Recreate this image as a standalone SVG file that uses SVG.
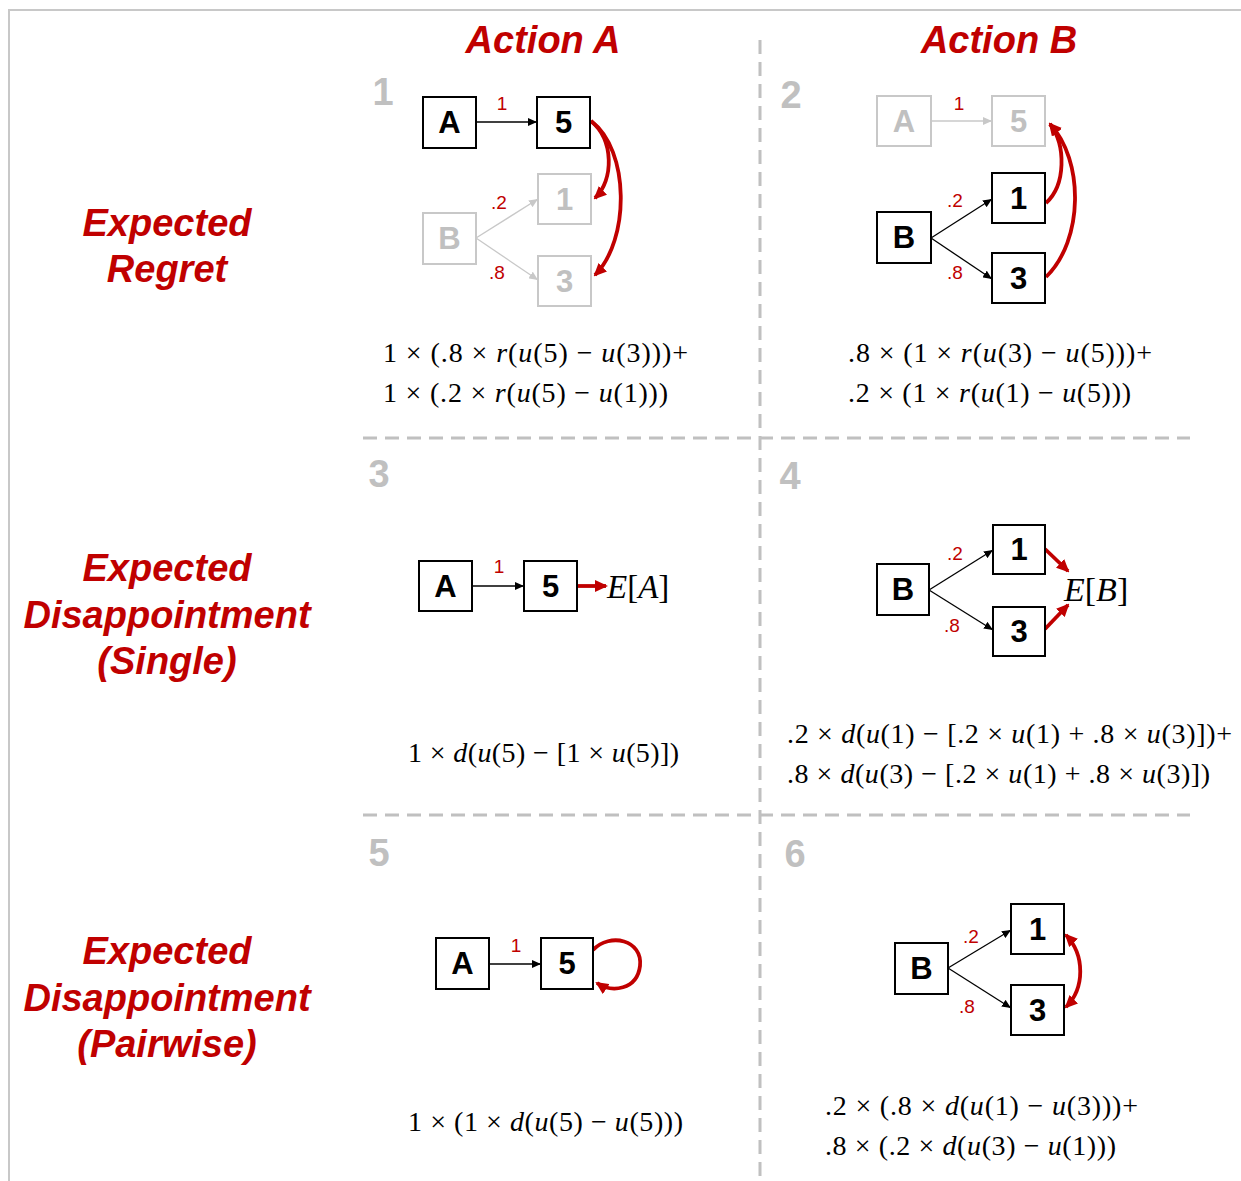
<svg xmlns="http://www.w3.org/2000/svg" width="1241" height="1181" viewBox="0 0 1241 1181">
<style>
.hdr{font-family:"Liberation Sans",Arial,sans-serif;font-weight:bold;font-style:italic;font-size:38px;fill:#c00000;text-anchor:middle}
.num{font-family:"Liberation Sans",Arial,sans-serif;font-weight:bold;font-size:38px;fill:#c0c0c0;text-anchor:middle}
.box{fill:#fff;stroke:#000;stroke-width:2}
.gbox{fill:#fff;stroke:#c8c8c8;stroke-width:2}
.bt{font-family:"Liberation Sans",Arial,sans-serif;font-weight:bold;font-size:31px;fill:#000;text-anchor:middle}
.gbt{font-family:"Liberation Sans",Arial,sans-serif;font-weight:bold;font-size:31px;fill:#c0c0c0;text-anchor:middle}
.pl{font-family:"Liberation Sans",Arial,sans-serif;font-size:19px;fill:#c00000;text-anchor:middle}
.ed{fill:none;stroke:#000;stroke-width:1.3;marker-end:url(#ah)}
.ged{fill:none;stroke:#c8c8c8;stroke-width:1.3;marker-end:url(#gah)}
.red{fill:none;stroke:#c00000;stroke-width:3.8;marker-end:url(#rah)}
.dash{stroke:#c0c0c0;stroke-width:3;stroke-dasharray:14 8;fill:none}
.f{font-family:"Liberation Serif","Times New Roman",serif;font-size:28px;fill:#000}
.i{font-style:italic}
</style>
<defs>
<marker id="ah" markerUnits="userSpaceOnUse" markerWidth="9" markerHeight="8" refX="9" refY="4" orient="auto"><path d="M0,0 L9,4 L0,8 z" fill="#000"/></marker>
<marker id="gah" markerUnits="userSpaceOnUse" markerWidth="9" markerHeight="8" refX="9" refY="4" orient="auto"><path d="M0,0 L9,4 L0,8 z" fill="#c8c8c8"/></marker>
<marker id="rah" markerUnits="userSpaceOnUse" markerWidth="13" markerHeight="12" refX="11" refY="6" orient="auto-start-reverse"><path d="M0,0 L13,6 L0,12 z" fill="#c00000"/></marker>
</defs>
<rect width="1241" height="1181" fill="#fff"/>
<path d="M9,1181 V10 H1241" fill="none" stroke="#c8c8c8" stroke-width="2"/>
<g id="grid">
<line class="dash" x1="760" y1="40" x2="760" y2="1181"/>
<line class="dash" x1="363" y1="438" x2="1190" y2="438"/>
<line class="dash" x1="363" y1="815" x2="1190" y2="815"/>
</g>
<g id="headers">
<text class="hdr" x="543" y="53">Action A</text>
<text class="hdr" x="999" y="53">Action B</text>
<text class="hdr" x="167" y="236">Expected</text>
<text class="hdr" x="167" y="282">Regret</text>
<text class="hdr" x="167" y="581">Expected</text>
<text class="hdr" x="167" y="628">Disappointment</text>
<text class="hdr" x="167" y="674">(Single)</text>
<text class="hdr" x="167" y="964">Expected</text>
<text class="hdr" x="167" y="1011">Disappointment</text>
<text class="hdr" x="167" y="1057">(Pairwise)</text>
</g>
<g id="panel-numbers">
<text class="num" x="383" y="105">1</text>
<text class="num" x="791" y="108">2</text>
<text class="num" x="379" y="487">3</text>
<text class="num" x="790" y="489">4</text>
<text class="num" x="379" y="866">5</text>
<text class="num" x="795" y="867">6</text>
</g>
<g id="connectors">
<line class="ed" x1="476" y1="122" x2="537" y2="122"/>
<line class="ged" x1="476" y1="238" x2="538" y2="199"/>
<line class="ged" x1="476" y1="238" x2="538" y2="280"/>
<path class="red" d="M591,121 C614,140 614,180 595,198"/>
<path class="red" d="M591,121 C630,150 630,240 595,275"/>
<line class="ged" x1="931" y1="121" x2="992" y2="121"/>
<line class="ed" x1="931" y1="238" x2="992" y2="199"/>
<line class="ed" x1="931" y1="238" x2="992" y2="279"/>
<path class="red" d="M1046,203 C1066,185 1066,145 1050,124"/>
<path class="red" d="M1046,277 C1084,240 1084,160 1050,124"/>
<line class="ed" x1="472" y1="586" x2="524" y2="586"/>
<line class="red" x1="577" y1="586" x2="606" y2="586"/>
<line class="ed" x1="929" y1="590" x2="993" y2="550"/>
<line class="ed" x1="929" y1="590" x2="993" y2="630"/>
<line class="red" x1="1045" y1="549" x2="1068" y2="571"/>
<line class="red" x1="1045" y1="629" x2="1068" y2="605"/>
<line class="ed" x1="489" y1="964" x2="541" y2="964"/>
<path class="red" d="M593,950 C610,932 643,940 640,966 C637,990 612,993 597,983"/>
<line class="ed" x1="948" y1="968" x2="1011" y2="930"/>
<line class="ed" x1="948" y1="968" x2="1011" y2="1008"/>
<path class="red" style="marker-start:url(#rah)" d="M1066,935 C1085,955 1085,988 1066,1007"/>
</g>
<g id="edge-labels">
<text class="pl" x="502" y="110">1</text>
<text class="pl" x="499" y="209">.2</text>
<text class="pl" x="497" y="279">.8</text>
<text class="pl" x="959" y="110">1</text>
<text class="pl" x="955" y="207">.2</text>
<text class="pl" x="955" y="279">.8</text>
<text class="pl" x="499" y="573">1</text>
<text class="pl" x="955" y="560">.2</text>
<text class="pl" x="952" y="632">.8</text>
<text class="pl" x="516" y="952">1</text>
<text class="pl" x="971" y="943">.2</text>
<text class="pl" x="967" y="1013">.8</text>
</g>
<g id="p1-A"><rect class="box" x="423" y="97" width="53" height="51"/><text class="bt" x="449.5" y="133">A</text></g>
<g id="p1-5"><rect class="box" x="537" y="97" width="53" height="51"/><text class="bt" x="563.5" y="133">5</text></g>
<g id="p1-B"><rect class="gbox" x="423" y="213" width="53" height="51"/><text class="gbt" x="449.5" y="249">B</text></g>
<g id="p1-1"><rect class="gbox" x="538" y="174" width="53" height="50"/><text class="gbt" x="564.5" y="210">1</text></g>
<g id="p1-3"><rect class="gbox" x="538" y="256" width="53" height="50"/><text class="gbt" x="564.5" y="292">3</text></g>
<g id="p2-A"><rect class="gbox" x="877" y="96" width="54" height="50"/><text class="gbt" x="904" y="132">A</text></g>
<g id="p2-5"><rect class="gbox" x="992" y="96" width="53" height="50"/><text class="gbt" x="1018.5" y="132">5</text></g>
<g id="p2-B"><rect class="box" x="877" y="212" width="54" height="51"/><text class="bt" x="904" y="248">B</text></g>
<g id="p2-1"><rect class="box" x="992" y="173" width="53" height="50"/><text class="bt" x="1018.5" y="209">1</text></g>
<g id="p2-3"><rect class="box" x="992" y="253" width="53" height="50"/><text class="bt" x="1018.5" y="289">3</text></g>
<g id="p3-A"><rect class="box" x="419" y="561" width="53" height="50"/><text class="bt" x="445.5" y="597">A</text></g>
<g id="p3-5"><rect class="box" x="524" y="561" width="53" height="50"/><text class="bt" x="550.5" y="597">5</text></g>
<g id="p3-EA"><text class="f" style="font-size:33px" x="607" y="598"><tspan class="i">E</tspan>[<tspan class="i">A</tspan>]</text></g>
<g id="p4-B"><rect class="box" x="877" y="564" width="52" height="51"/><text class="bt" x="903" y="600">B</text></g>
<g id="p4-1"><rect class="box" x="993" y="525" width="52" height="49"/><text class="bt" x="1019" y="560">1</text></g>
<g id="p4-3"><rect class="box" x="993" y="607" width="52" height="49"/><text class="bt" x="1019" y="642">3</text></g>
<g id="p4-EB"><text class="f" style="font-size:34px" x="1064" y="601"><tspan class="i">E</tspan>[<tspan class="i">B</tspan>]</text></g>
<g id="p5-A"><rect class="box" x="436" y="938" width="53" height="51"/><text class="bt" x="462.5" y="974">A</text></g>
<g id="p5-5"><rect class="box" x="541" y="938" width="52" height="51"/><text class="bt" x="567" y="974">5</text></g>
<g id="p6-B"><rect class="box" x="895" y="943" width="53" height="51"/><text class="bt" x="921.5" y="979">B</text></g>
<g id="p6-1"><rect class="box" x="1011" y="904" width="53" height="50"/><text class="bt" x="1037.5" y="940">1</text></g>
<g id="p6-3"><rect class="box" x="1011" y="985" width="53" height="50"/><text class="bt" x="1037.5" y="1021">3</text></g>
<g id="formulas">
<text class="f" x="383" y="362" textLength="305" lengthAdjust="spacing">1 × (.8 × <tspan class="i">r</tspan>(<tspan class="i">u</tspan>(5) − <tspan class="i">u</tspan>(3)))+</text>
<text class="f" x="383" y="402" textLength="285" lengthAdjust="spacing">1 × (.2 × <tspan class="i">r</tspan>(<tspan class="i">u</tspan>(5) − <tspan class="i">u</tspan>(1)))</text>
<text class="f" x="848" y="362" textLength="304" lengthAdjust="spacing">.8 × (1 × <tspan class="i">r</tspan>(<tspan class="i">u</tspan>(3) − <tspan class="i">u</tspan>(5)))+</text>
<text class="f" x="848" y="402" textLength="283" lengthAdjust="spacing">.2 × (1 × <tspan class="i">r</tspan>(<tspan class="i">u</tspan>(1) − <tspan class="i">u</tspan>(5)))</text>
<text class="f" x="408" y="762" textLength="271" lengthAdjust="spacing">1 × <tspan class="i">d</tspan>(<tspan class="i">u</tspan>(5) − [1 × <tspan class="i">u</tspan>(5)])</text>
<text class="f" x="787" y="743" textLength="445" lengthAdjust="spacing">.2 × <tspan class="i">d</tspan>(<tspan class="i">u</tspan>(1) − [.2 × <tspan class="i">u</tspan>(1) + .8 × <tspan class="i">u</tspan>(3)])+</text>
<text class="f" x="787" y="783" textLength="423" lengthAdjust="spacing">.8 × <tspan class="i">d</tspan>(<tspan class="i">u</tspan>(3) − [.2 × <tspan class="i">u</tspan>(1) + .8 × <tspan class="i">u</tspan>(3)])</text>
<text class="f" x="408" y="1131" textLength="275" lengthAdjust="spacing">1 × (1 × <tspan class="i">d</tspan>(<tspan class="i">u</tspan>(5) − <tspan class="i">u</tspan>(5)))</text>
<text class="f" x="825" y="1115" textLength="313" lengthAdjust="spacing">.2 × (.8 × <tspan class="i">d</tspan>(<tspan class="i">u</tspan>(1) − <tspan class="i">u</tspan>(3)))+</text>
<text class="f" x="825" y="1155" textLength="291" lengthAdjust="spacing">.8 × (.2 × <tspan class="i">d</tspan>(<tspan class="i">u</tspan>(3) − <tspan class="i">u</tspan>(1)))</text>
</g>
</svg>
